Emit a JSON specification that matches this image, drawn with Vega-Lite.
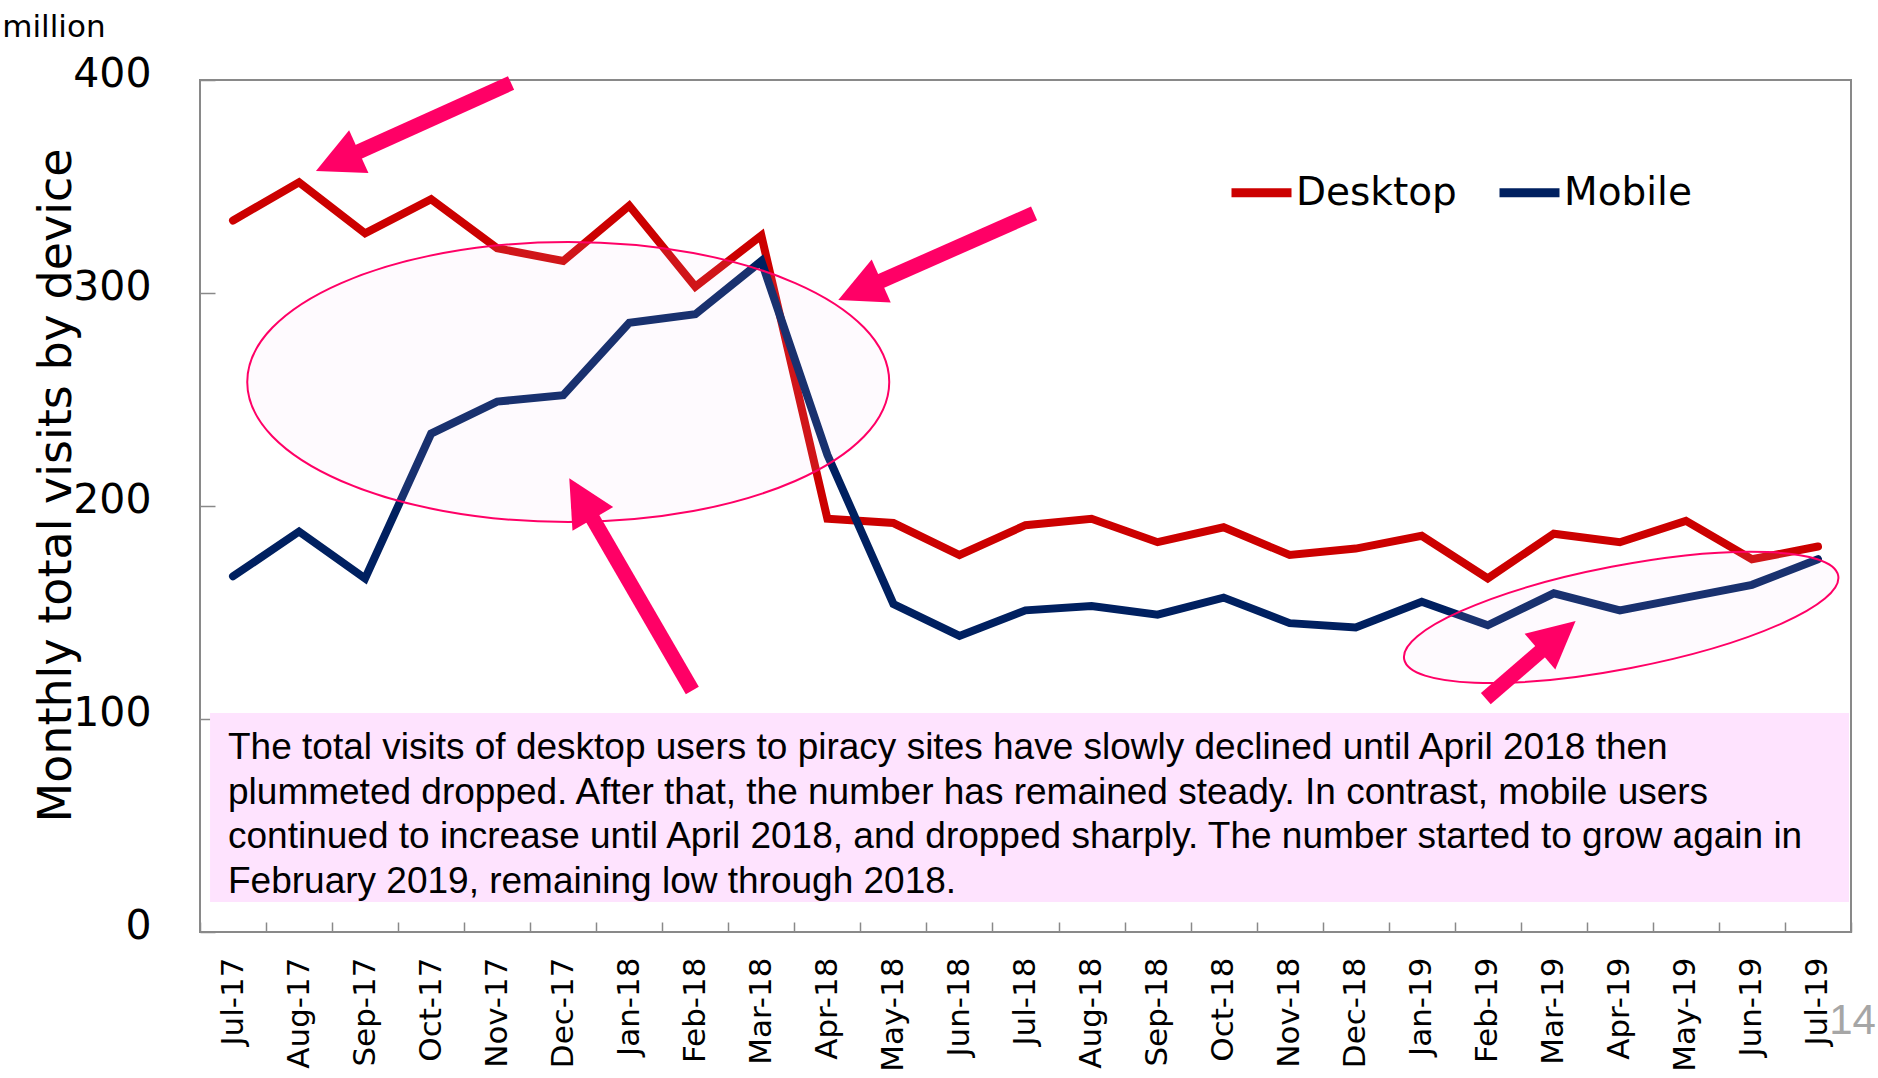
{
  "$schema": "https://vega.github.io/schema/vega-lite/v6.json",
  "width": 1651,
  "height": 852,
  "autosize": "none",
  "padding": {"left": 200, "top": 80, "right": 27, "bottom": 146},
  "background": "white",
  "config": {
    "view": {"stroke": "#898989", "strokeWidth": 2},
    "font": "DejaVu Sans"
  },
  "resolve": {"scale": {"x": "independent"}, "axis": {"x": "independent", "y": "independent"}},
  "layer": [
    {
      "data": {"values": [{}]},
      "layer": [
        {
          "mark": {"type": "rect", "fill": "#FEE3FE"},
          "encoding": {
            "x": {"datum": -0.348, "type": "quantitative", "scale": {"domain": [-0.5, 24.5], "nice": false, "zero": false}, "axis": null},
            "x2": {"datum": 24.47},
            "y": {"datum": 102.8, "type": "quantitative", "axis": null},
            "y2": {"datum": 14.1}
          }
        },
        {
          "mark": {
            "type": "text",
            "text": [
              "The total visits of desktop users to piracy sites have slowly declined until April 2018 then",
              "plummeted dropped. After that, the number has remained steady. In contrast, mobile users",
              "continued to increase until April 2018, and dropped sharply. The number started to grow  again in",
              "February 2019, remaining low through 2018."
            ],
            "font": "Liberation Sans",
            "fontSize": 37,
            "lineHeight": 44.7,
            "align": "left",
            "baseline": "alphabetic",
            "color": "#000000"
          },
          "encoding": {
            "x": {"datum": -0.076, "type": "quantitative", "scale": {"domain": [-0.5, 24.5], "nice": false, "zero": false}, "axis": null},
            "y": {"datum": 81.2, "type": "quantitative", "axis": null}
          }
        }
      ]
    },
    {
      "data": {
        "values": [
          {"month": "Jul-17", "device": "Desktop", "visits": 334},
          {"month": "Aug-17", "device": "Desktop", "visits": 352},
          {"month": "Sep-17", "device": "Desktop", "visits": 328},
          {"month": "Oct-17", "device": "Desktop", "visits": 344},
          {"month": "Nov-17", "device": "Desktop", "visits": 321},
          {"month": "Dec-17", "device": "Desktop", "visits": 315},
          {"month": "Jan-18", "device": "Desktop", "visits": 341},
          {"month": "Feb-18", "device": "Desktop", "visits": 303},
          {"month": "Mar-18", "device": "Desktop", "visits": 327},
          {"month": "Apr-18", "device": "Desktop", "visits": 194},
          {"month": "May-18", "device": "Desktop", "visits": 192},
          {"month": "Jun-18", "device": "Desktop", "visits": 177},
          {"month": "Jul-18", "device": "Desktop", "visits": 191},
          {"month": "Aug-18", "device": "Desktop", "visits": 194},
          {"month": "Sep-18", "device": "Desktop", "visits": 183},
          {"month": "Oct-18", "device": "Desktop", "visits": 190},
          {"month": "Nov-18", "device": "Desktop", "visits": 177},
          {"month": "Dec-18", "device": "Desktop", "visits": 180},
          {"month": "Jan-19", "device": "Desktop", "visits": 186},
          {"month": "Feb-19", "device": "Desktop", "visits": 166},
          {"month": "Mar-19", "device": "Desktop", "visits": 187},
          {"month": "Apr-19", "device": "Desktop", "visits": 183},
          {"month": "May-19", "device": "Desktop", "visits": 193},
          {"month": "Jun-19", "device": "Desktop", "visits": 175},
          {"month": "Jul-19", "device": "Desktop", "visits": 181},
          {"month": "Jul-17", "device": "Mobile", "visits": 167},
          {"month": "Aug-17", "device": "Mobile", "visits": 188},
          {"month": "Sep-17", "device": "Mobile", "visits": 166},
          {"month": "Oct-17", "device": "Mobile", "visits": 234},
          {"month": "Nov-17", "device": "Mobile", "visits": 249},
          {"month": "Dec-17", "device": "Mobile", "visits": 252},
          {"month": "Jan-18", "device": "Mobile", "visits": 286},
          {"month": "Feb-18", "device": "Mobile", "visits": 290},
          {"month": "Mar-18", "device": "Mobile", "visits": 315},
          {"month": "Apr-18", "device": "Mobile", "visits": 224},
          {"month": "May-18", "device": "Mobile", "visits": 154},
          {"month": "Jun-18", "device": "Mobile", "visits": 139},
          {"month": "Jul-18", "device": "Mobile", "visits": 151},
          {"month": "Aug-18", "device": "Mobile", "visits": 153},
          {"month": "Sep-18", "device": "Mobile", "visits": 149},
          {"month": "Oct-18", "device": "Mobile", "visits": 157},
          {"month": "Nov-18", "device": "Mobile", "visits": 145},
          {"month": "Dec-18", "device": "Mobile", "visits": 143},
          {"month": "Jan-19", "device": "Mobile", "visits": 155},
          {"month": "Feb-19", "device": "Mobile", "visits": 144},
          {"month": "Mar-19", "device": "Mobile", "visits": 159},
          {"month": "Apr-19", "device": "Mobile", "visits": 151},
          {"month": "May-19", "device": "Mobile", "visits": 157},
          {"month": "Jun-19", "device": "Mobile", "visits": 163},
          {"month": "Jul-19", "device": "Mobile", "visits": 175}
        ]
      },
      "mark": {"type": "line", "strokeWidth": 8, "strokeCap": "round", "strokeJoin": "miter"},
      "encoding": {
        "x": {
          "field": "month",
          "type": "ordinal",
          "sort": null,
          "bandPosition": 0.5,
          "scale": {"type": "band", "paddingInner": 0, "paddingOuter": 0},
          "axis": {
            "title": null,
            "labelAngle": -90,
            "labelFont": "DejaVu Sans",
            "labelFontSize": 31,
            "labelColor": "#000000",
            "tickBand": "extent",
            "tickSize": -10,
            "tickColor": "#898989",
            "tickWidth": 1.5,
            "labelPadding": 35,
            "domain": false,
            "grid": false
          }
        },
        "y": {
          "field": "visits",
          "type": "quantitative",
          "scale": {"domain": [0, 400], "nice": false},
          "axis": {
            "title": "Monthly total visits by device",
            "values": [0, 100, 200, 300, 400],
            "labelFont": "DejaVu Sans",
            "labelFontSize": 41,
            "labelColor": "#000000",
            "tickSize": -15,
            "tickColor": "#898989",
            "tickWidth": 1.5,
            "labelPadding": 64,
            "labelOffset": -6,
            "domain": false,
            "grid": false,
            "titleFont": "DejaVu Sans",
            "titleFontSize": 46,
            "titleFontWeight": "normal",
            "titleColor": "#000000",
            "titleX": -130,
            "titleY": 405,
            "titleAngle": -90,
            "titleAlign": "center",
            "titleBaseline": "alphabetic"
          }
        },
        "color": {
          "field": "device",
          "type": "nominal",
          "scale": {"domain": ["Desktop", "Mobile"], "range": ["#CC0000", "#002060"]},
          "legend": {
            "orient": "none",
            "legendX": 1027,
            "legendY": 78,
            "direction": "horizontal",
            "title": null,
            "symbolType": "stroke",
            "symbolStrokeWidth": 9,
            "symbolSize": 3600,
            "labelFont": "DejaVu Sans",
            "labelFontSize": 39,
            "labelColor": "#000000",
            "labelOffset": 0,
            "columnPadding": 24,
            "padding": 0,
            "labelLimit": 0
          }
        }
      }
    },
    {
      "data": {"values": [{}]},
      "layer": [
        {
          "mark": {"type": "point", "shape": "M-1,0C-1,-0.2408,-0.5523,-0.436,0,-0.436C0.5523,-0.436,1,-0.2408,1,0C1,0.2408,0.5523,0.436,0,0.436C-0.5523,0.436,-1,0.2408,-1,0Z", "size": 412164, "filled": true, "fill": "#F4D2FA", "fillOpacity": 0.1, "stroke": "#FF0066", "strokeWidth": 2, "strokeOpacity": 1, "opacity": 1},
          "encoding": {
            "x": {"datum": 5.076, "type": "quantitative", "scale": {"domain": [-0.5, 24.5], "nice": false, "zero": false}, "axis": null},
            "y": {"datum": 258.2, "type": "quantitative", "axis": null}
          }
        },
        {
          "mark": {"type": "point", "shape": "M-1,0C-1,-0.1287,-0.5523,-0.233,0,-0.233C0.5523,-0.233,1,-0.1287,1,0C1,0.1287,0.5523,0.233,0,0.233C-0.5523,0.233,-1,0.1287,-1,0Z", "size": 195364, "angle": -10.9, "filled": true, "fill": "#F4D2FA", "fillOpacity": 0.1, "stroke": "#FF0066", "strokeWidth": 2, "strokeOpacity": 1, "opacity": 1},
          "encoding": {
            "x": {"datum": 21.02, "type": "quantitative", "scale": {"domain": [-0.5, 24.5], "nice": false, "zero": false}, "axis": null},
            "y": {"datum": 147.7, "type": "quantitative", "axis": null}
          }
        },
        {
          "mark": {"type": "rule", "color": "#FF0066", "strokeWidth": 15, "strokeCap": "butt"},
          "encoding": {
            "x": {"datum": 4.21, "type": "quantitative", "scale": {"domain": [-0.5, 24.5], "nice": false, "zero": false}, "axis": null},
            "x2": {"datum": 1.58},
            "y": {"datum": 398.6, "type": "quantitative", "axis": null},
            "y2": {"datum": 361.8}
          }
        },
        {
          "mark": {"type": "rule", "color": "#FF0066", "strokeWidth": 15, "strokeCap": "butt"},
          "encoding": {
            "x": {"datum": 12.13, "type": "quantitative", "scale": {"domain": [-0.5, 24.5], "nice": false, "zero": false}, "axis": null},
            "x2": {"datum": 9.49},
            "y": {"datum": 337.4, "type": "quantitative", "axis": null},
            "y2": {"datum": 301.2}
          }
        },
        {
          "mark": {"type": "rule", "color": "#FF0066", "strokeWidth": 15, "strokeCap": "butt"},
          "encoding": {
            "x": {"datum": 6.955, "type": "quantitative", "scale": {"domain": [-0.5, 24.5], "nice": false, "zero": false}, "axis": null},
            "x2": {"datum": 5.27},
            "y": {"datum": 113.4, "type": "quantitative", "axis": null},
            "y2": {"datum": 203.5}
          }
        },
        {
          "mark": {"type": "rule", "color": "#FF0066", "strokeWidth": 15, "strokeCap": "butt"},
          "encoding": {
            "x": {"datum": 18.97, "type": "quantitative", "scale": {"domain": [-0.5, 24.5], "nice": false, "zero": false}, "axis": null},
            "x2": {"datum": 20.06},
            "y": {"datum": 109.6, "type": "quantitative", "axis": null},
            "y2": {"datum": 138.8}
          }
        },
        {
          "mark": {"type": "point", "shape": "M0,-1L1,1L-1,1Z", "size": 2209, "angle": 245.7, "filled": true, "fill": "#FF0066", "strokeWidth": 0, "opacity": 1},
          "encoding": {
            "x": {"datum": 1.58, "type": "quantitative", "scale": {"domain": [-0.5, 24.5], "nice": false, "zero": false}, "axis": null},
            "y": {"datum": 361.8, "type": "quantitative", "axis": null}
          }
        },
        {
          "mark": {"type": "point", "shape": "M0,-1L1,1L-1,1Z", "size": 2209, "angle": 246.1, "filled": true, "fill": "#FF0066", "strokeWidth": 0, "opacity": 1},
          "encoding": {
            "x": {"datum": 9.49, "type": "quantitative", "scale": {"domain": [-0.5, 24.5], "nice": false, "zero": false}, "axis": null},
            "y": {"datum": 301.2, "type": "quantitative", "axis": null}
          }
        },
        {
          "mark": {"type": "point", "shape": "M0,-1L1,1L-1,1Z", "size": 2209, "angle": 329.9, "filled": true, "fill": "#FF0066", "strokeWidth": 0, "opacity": 1},
          "encoding": {
            "x": {"datum": 5.27, "type": "quantitative", "scale": {"domain": [-0.5, 24.5], "nice": false, "zero": false}, "axis": null},
            "y": {"datum": 203.5, "type": "quantitative", "axis": null}
          }
        },
        {
          "mark": {"type": "point", "shape": "M0,-1L1,1L-1,1Z", "size": 2209, "angle": 49.3, "filled": true, "fill": "#FF0066", "strokeWidth": 0, "opacity": 1},
          "encoding": {
            "x": {"datum": 20.06, "type": "quantitative", "scale": {"domain": [-0.5, 24.5], "nice": false, "zero": false}, "axis": null},
            "y": {"datum": 138.8, "type": "quantitative", "axis": null}
          }
        },
        {
          "mark": {"type": "text", "text": "million", "font": "DejaVu Sans", "fontSize": 31, "align": "right", "baseline": "alphabetic", "color": "#000000"},
          "encoding": {
            "x": {"datum": -1.93, "type": "quantitative", "scale": {"domain": [-0.5, 24.5], "nice": false, "zero": false}, "axis": null},
            "y": {"datum": 420.2, "type": "quantitative", "axis": null}
          }
        },
        {
          "mark": {"type": "text", "text": "14", "font": "Liberation Sans", "fontSize": 42, "align": "left", "baseline": "alphabetic", "color": "#A6A6A6"},
          "encoding": {
            "x": {"datum": 24.17, "type": "quantitative", "scale": {"domain": [-0.5, 24.5], "nice": false, "zero": false}, "axis": null},
            "y": {"datum": -47.9, "type": "quantitative", "axis": null}
          }
        }
      ]
    }
  ]
}
